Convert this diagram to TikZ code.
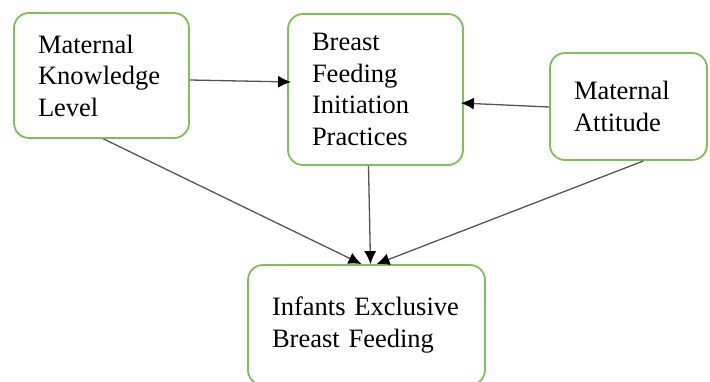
\documentclass[tikz,border=0pt]{standalone}
\usepackage{fontspec}
\setmainfont{Liberation Serif}
\usetikzlibrary{arrows.meta, positioning, calc}
\definecolor{boxgreen}{RGB}{128,190,88}
\definecolor{linegray}{RGB}{85,85,85}

\begin{document}
\begin{tikzpicture}[x=1pt, y=-1pt,
    box/.style={draw=boxgreen, line width=1.8pt, rounded corners=15pt, fill=white,
        inner xsep=24pt, inner ysep=0pt, align=left,
        font=\fontsize{26.5}{31.5}\selectfont},
    link/.style={draw=linegray, line width=1.3pt, -{Latex[length=13pt, width=12pt, black]}}]
\useasboundingbox (0,0) rectangle (710,381);
\clip (0,0) rectangle (710,381);
\node[box, text width=127pt, minimum height=125pt] (know) at (101.5,75.5) {Maternal\\Knowledge\\Level};
\node[box, text width=127pt, minimum height=151pt] (init) at (375.5,89.5) {Breast\\Feeding\\Initiation\\Practices};
\node[box, text width=109pt, minimum height=107pt] (att) at (628.5,106.5) {Maternal\\Attitude};
\node[box, text width=189pt, minimum height=120pt] (excl) at (366.5,325) {Infants Exclusive\\Breast Feeding};
\draw[link] ([yshift=-4.5pt]know.east) to ([xshift=4pt, yshift=7.5pt]init.west);
\draw[link] ([yshift=-0.5pt]att.west) to ([xshift=-3pt, yshift=-13.5pt]init.east);
\draw[link] ([xshift=2pt]know.south) to ([xshift=-5pt]excl.north);
\draw[link] ([xshift=-7pt]init.south) to ([xshift=4pt]excl.north);
\draw[link] ([xshift=15pt]att.south) to ([xshift=10pt]excl.north);
\end{tikzpicture}
\end{document}
